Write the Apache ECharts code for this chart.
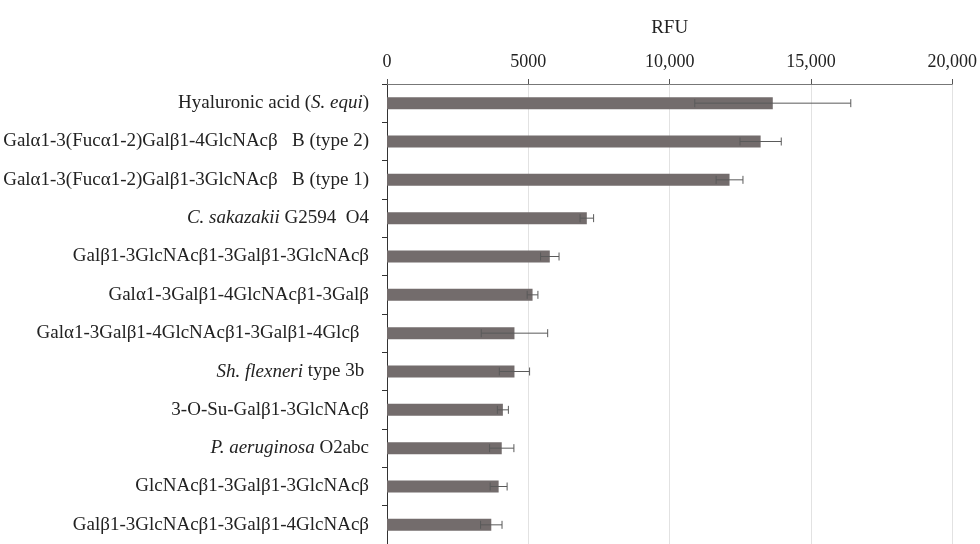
<!DOCTYPE html>
<html>
<head>
<meta charset="utf-8">
<script src="https://cdn.jsdelivr.net/npm/echarts@6/dist/echarts.min.js"></script>
<style>html,body{margin:0;padding:0;background:#fff;}#c{width:980px;height:544px;}</style>
</head>
<body>
<div id="c"></div>
<script>
var categories = [
  'Hyaluronic acid ({i|S. equi})',
  'Galα1-3(Fucα1-2)Galβ1-4GlcNAcβ   B (type 2)',
  'Galα1-3(Fucα1-2)Galβ1-3GlcNAcβ   B (type 1)',
  '{i|C. sakazakii} G2594  O4',
  'Galβ1-3GlcNAcβ1-3Galβ1-3GlcNAcβ',
  'Galα1-3Galβ1-4GlcNAcβ1-3Galβ',
  'Galα1-3Galβ1-4GlcNAcβ1-3Galβ1-4Glcβ  ',
  '{i|Sh. flexneri} type 3b ',
  '3-O-Su-Galβ1-3GlcNAcβ',
  '{i|P. aeruginosa} O2abc',
  'GlcNAcβ1-3Galβ1-3GlcNAcβ',
  'Galβ1-3GlcNAcβ1-3Galβ1-4GlcNAcβ'
];
var values = [13650, 13220, 12120, 7070, 5760, 5150, 4510, 4510, 4100, 4060, 3950, 3690];
var errors = [2760, 730, 475, 240, 327, 190, 1175, 535, 195, 430, 300, 380];
var xTicks = [0, 5000, 10000, 15000, 20000];
var xTickLabels = ['0', '5000', '10,000', '15,000', '20,000'];

var errData = values.map(function (v, i) { return [i, v, errors[i]]; });
var font = 'Liberation Serif';

var chart = echarts.init(document.getElementById('c'), null, {renderer: 'canvas'});
chart.setOption({
  backgroundColor: '#fff',
  animation: false,
  grid: {left: 387, right: 26, top: 84, height: 461},
  xAxis: {
    type: 'value', position: 'top', min: 0, max: 20000, interval: 5000,
    name: 'RFU', nameLocation: 'middle', nameGap: 46,
    nameTextStyle: {fontFamily: font, fontSize: 19, color: '#222'},
    axisLine: {show: true, lineStyle: {color: '#777', width: 1}},
    axisTick: {show: true, length: 5, lineStyle: {color: '#555'}},
    splitLine: {show: true, lineStyle: {color: '#e2e2e2', width: 1}},
    axisLabel: {
      fontFamily: font, fontSize: 18, color: '#222', margin: 13,
      formatter: function (v) { var k = xTicks.indexOf(v); return k >= 0 ? xTickLabels[k] : ''; }
    }
  },
  yAxis: {
    type: 'category', inverse: true, data: categories,
    axisLine: {show: true, lineStyle: {color: '#333', width: 1}},
    axisTick: {show: true, length: 5, lineStyle: {color: '#333'}},
    axisLabel: {
      margin: 18, fontFamily: font, fontSize: 19, color: '#222',
      formatter: function (v) { return v; },
      rich: {i: {fontFamily: font, fontSize: 19, fontStyle: 'italic', color: '#222'}}
    }
  },
  series: [
    {
      type: 'bar', data: values, barWidth: 12,
      itemStyle: {color: '#736c6c'}
    },
    {
      type: 'custom', data: errData, z: 5,
      encode: {x: 1, y: 0},
      renderItem: function (params, api) {
        var i = api.value(0), v = api.value(1), e = api.value(2);
        var lo = api.coord([v - e, i]);
        var hi = api.coord([v + e, i]);
        var h = 4;
        var st = {stroke: '#5a5a5a', lineWidth: 1};
        return {
          type: 'group',
          children: [
            {type: 'line', shape: {x1: lo[0], y1: lo[1], x2: hi[0], y2: hi[1]}, style: st},
            {type: 'line', shape: {x1: lo[0], y1: lo[1] - h, x2: lo[0], y2: lo[1] + h}, style: st},
            {type: 'line', shape: {x1: hi[0], y1: hi[1] - h, x2: hi[0], y2: hi[1] + h}, style: st}
          ]
        };
      }
    }
  ]
});
</script>
</body>
</html>
